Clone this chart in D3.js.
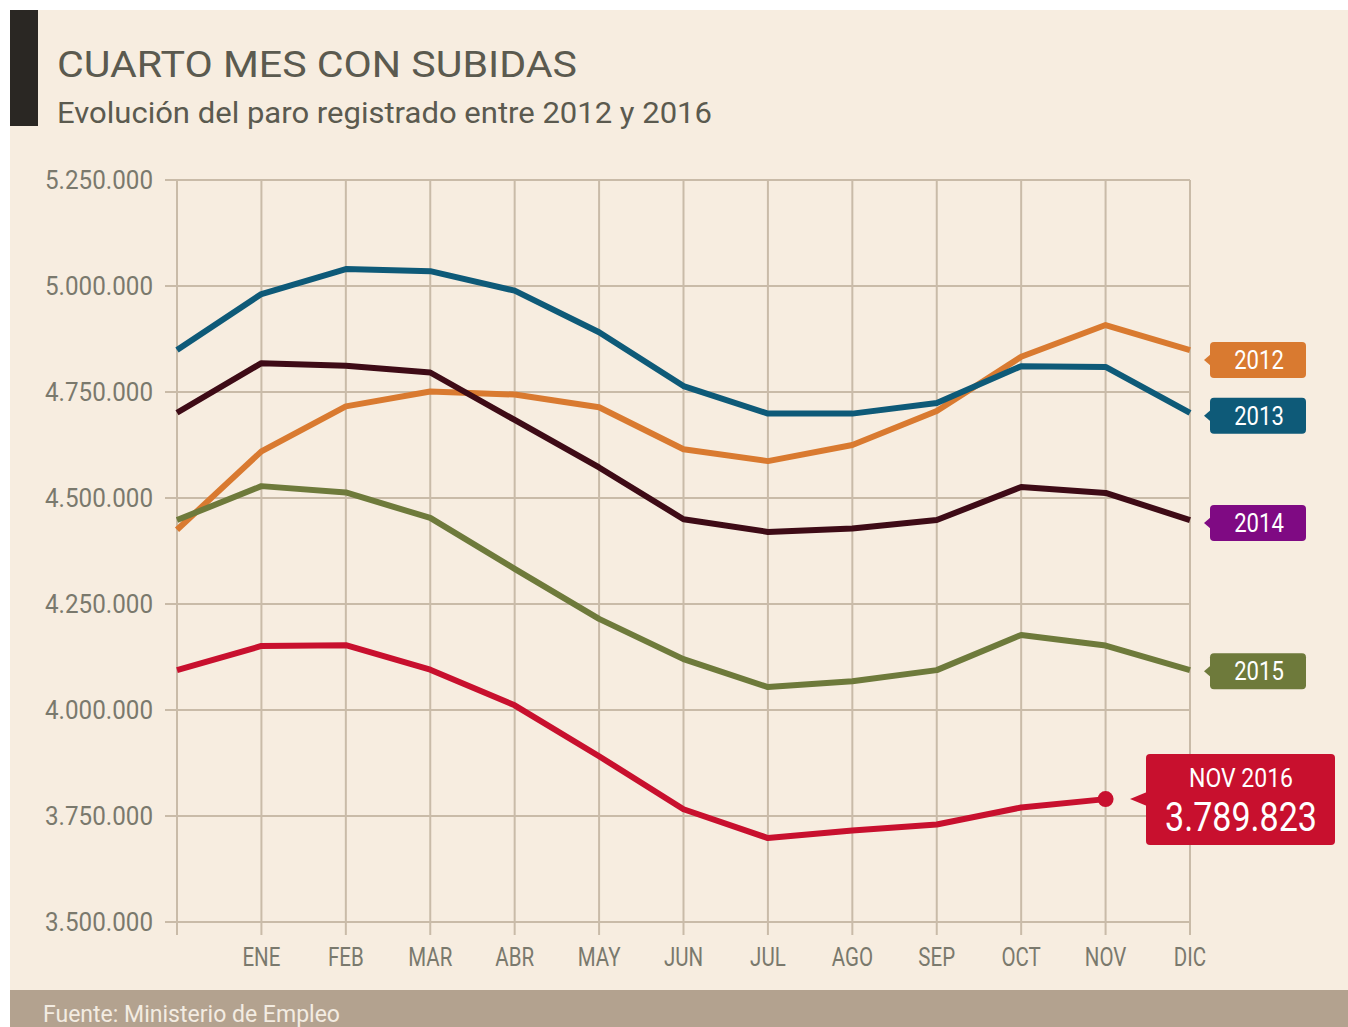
<!DOCTYPE html>
<html lang="es">
<head>
<meta charset="UTF-8" />
<title>Cuarto mes con subidas</title>
<script src="https://cdn.jsdelivr.net/npm/d3@7/dist/d3.min.js"></script>
<style>
	body { margin: 0; background: #ffffff; }
	text { font-family: Roboto, "Liberation Sans", sans-serif; }
</style>
</head>
<body>
<svg id="vis" width="1348" height="1027"></svg>
<script>
	// Meses (la primera posición es diciembre del año anterior)
	var meses = ["", "ENE", "FEB", "MAR", "ABR", "MAY", "JUN", "JUL", "AGO", "SEP", "OCT", "NOV", "DIC"];
	var anios = ["2012", "2013", "2014", "2015", "2016"];

	var paro2012 = [4425000, 4610000, 4716000, 4751000, 4744000, 4714000, 4615000, 4587000, 4625000, 4705000, 4833000, 4908000, 4849000];
	var paro2013 = [4849000, 4981000, 5040000, 5035000, 4989000, 4891000, 4764000, 4699000, 4699000, 4724000, 4811000, 4809000, 4701000];
	var paro2014 = [4701000, 4818000, 4812000, 4796000, 4684000, 4572000, 4450000, 4420000, 4428000, 4448000, 4526000, 4512000, 4448000];
	var paro2015 = [4448000, 4528000, 4513000, 4453000, 4333000, 4215000, 4120000, 4054000, 4068000, 4094000, 4177000, 4152000, 4094000];
	var paro2016 = [4094000, 4151000, 4153000, 4095000, 4011000, 3891000, 3766000, 3698000, 3716000, 3730000, 3770000, 3789823];

	var yTicks = [3500000, 3750000, 4000000, 4250000, 4500000, 4750000, 5000000, 5250000];

	var series = [paro2012, paro2013, paro2014, paro2015, paro2016];
	var colLinea = ["#d97a30", "#0e5a78", "#3e0b16", "#6e7a3b", "#c8102e"];
	var colEtiqueta = ["#d97a30", "#0e5a78", "#7f0a83", "#6e7a3b", "#c8102e"];
	var ajusteEtiqueta = [10, 3, 3, 1];

	var fmt = function(v) { return d3.format(",")(v).replace(/,/g, "."); };

	var svg = d3.select("#vis");

	// Fondo
	svg.append("rect").attr("x", 10).attr("y", 10).attr("width", 1338).attr("height", 1017).attr("fill", "#f7ede0");
	svg.append("rect").attr("x", 10).attr("y", 990).attr("width", 1338).attr("height", 37).attr("fill", "#b3a28f");
	svg.append("rect").attr("x", 10).attr("y", 10).attr("width", 28).attr("height", 116).attr("fill", "#2a2723");

	// Títulos
	svg.append("text").attr("x", 57).attr("y", 77)
		.attr("font-size", 37).attr("fill", "#5b5a4f")
		.attr("textLength", 520).attr("lengthAdjust", "spacingAndGlyphs")
		.text("CUARTO MES CON SUBIDAS");
	svg.append("text").attr("x", 57).attr("y", 123)
		.attr("font-size", 30).attr("fill", "#5b5a4f")
		.attr("textLength", 655).attr("lengthAdjust", "spacingAndGlyphs")
		.text("Evolución del paro registrado entre 2012 y 2016");

	// Escalas
	var scaleX = d3.scaleLinear().domain([0, meses.length - 1]).range([177, 1190]);
	var scaleY = d3.scaleLinear().domain([3500000, 5250000]).range([922, 180]);

	var grid = "#c9bba8";

	// Rejilla horizontal y etiquetas Y
	var gy = svg.append("g");
	gy.selectAll("line").data(yTicks).enter().append("line")
		.attr("x1", 165).attr("x2", 1190)
		.attr("y1", function(d) { return scaleY(d); })
		.attr("y2", function(d) { return scaleY(d); })
		.attr("stroke", grid).attr("stroke-width", 2);
	gy.selectAll("text").data(yTicks).enter().append("text")
		.attr("x", 153).attr("y", function(d) { return scaleY(d) + 9; })
		.attr("text-anchor", "end").attr("font-size", 25).attr("fill", "#7a796d")
		.attr("textLength", 108).attr("lengthAdjust", "spacingAndGlyphs")
		.text(function(d) { return fmt(d); });

	// Rejilla vertical y etiquetas X
	var gx = svg.append("g");
	gx.selectAll("line").data(meses).enter().append("line")
		.attr("x1", function(d, i) { return scaleX(i); })
		.attr("x2", function(d, i) { return scaleX(i); })
		.attr("y1", 180).attr("y2", 935)
		.attr("stroke", grid).attr("stroke-width", 2);
	gx.selectAll("text").data(meses).enter().append("text")
		.attr("x", function(d, i) { return scaleX(i); }).attr("y", 966)
		.attr("text-anchor", "middle").attr("font-size", 25).attr("fill", "#7a796d")
		.attr("transform", function(d, i) { return "translate(" + scaleX(i) + ",0) scale(0.82,1) translate(" + (-scaleX(i)) + ",0)"; })
		.text(function(d) { return d; });

	// Líneas
	var linea = d3.line()
		.x(function(d, i) { return scaleX(i); })
		.y(function(d) { return scaleY(d); });

	series.forEach(function(s, j) {
		svg.append("path")
			.attr("d", linea(s))
			.attr("fill", "none")
			.attr("stroke", colLinea[j])
			.attr("stroke-width", 6)
			.attr("stroke-linejoin", "round");
	});

	// Etiquetas de año
	for (var j = 0; j < 4; j++) {
		var ult = series[j][series[j].length - 1];
		var cy = scaleY(ult) + ajusteEtiqueta[j];
		var g = svg.append("g").attr("transform", "translate(1210," + cy + ")");
		g.append("path").attr("d", "M-6,0 L1,-6 L1,6 Z").attr("fill", colEtiqueta[j]);
		g.append("rect").attr("x", 0).attr("y", -18).attr("width", 96).attr("height", 36)
			.attr("rx", 4).attr("fill", colEtiqueta[j]);
		g.append("text").attr("x", 49).attr("y", 9).attr("text-anchor", "middle")
			.attr("font-size", 26).attr("fill", "#ffffff")
			.attr("transform", "translate(49,0) scale(0.85,1) translate(-49,0)")
			.text(anios[j]);
	}

	// Último dato 2016
	var iNov = paro2016.length - 1;
	var px = scaleX(iNov), py = scaleY(paro2016[iNov]);
	svg.append("circle").attr("cx", px).attr("cy", py).attr("r", 8).attr("fill", colLinea[4]);

	var gb = svg.append("g").attr("transform", "translate(1146," + py + ")");
	gb.append("path").attr("d", "M-16,0 L1,-7 L1,7 Z").attr("fill", colLinea[4]);
	gb.append("rect").attr("x", 0).attr("y", -45).attr("width", 189).attr("height", 91)
		.attr("rx", 4).attr("fill", colLinea[4]);
	gb.append("text").attr("x", 95).attr("y", -12).attr("text-anchor", "middle")
		.attr("font-size", 26).attr("fill", "#ffffff")
		.attr("textLength", 104).attr("lengthAdjust", "spacingAndGlyphs")
		.text("NOV " + anios[4]);
	gb.append("text").attr("x", 95).attr("y", 32).attr("text-anchor", "middle")
		.attr("font-size", 40).attr("fill", "#ffffff")
		.attr("textLength", 152).attr("lengthAdjust", "spacingAndGlyphs")
		.text(fmt(paro2016[iNov]));

	// Fuente
	svg.append("text").attr("x", 43).attr("y", 1022)
		.attr("font-size", 24).attr("fill", "#f3ece2")
		.attr("textLength", 297).attr("lengthAdjust", "spacingAndGlyphs")
		.text("Fuente: Ministerio de Empleo");
</script>
</body>
</html>
